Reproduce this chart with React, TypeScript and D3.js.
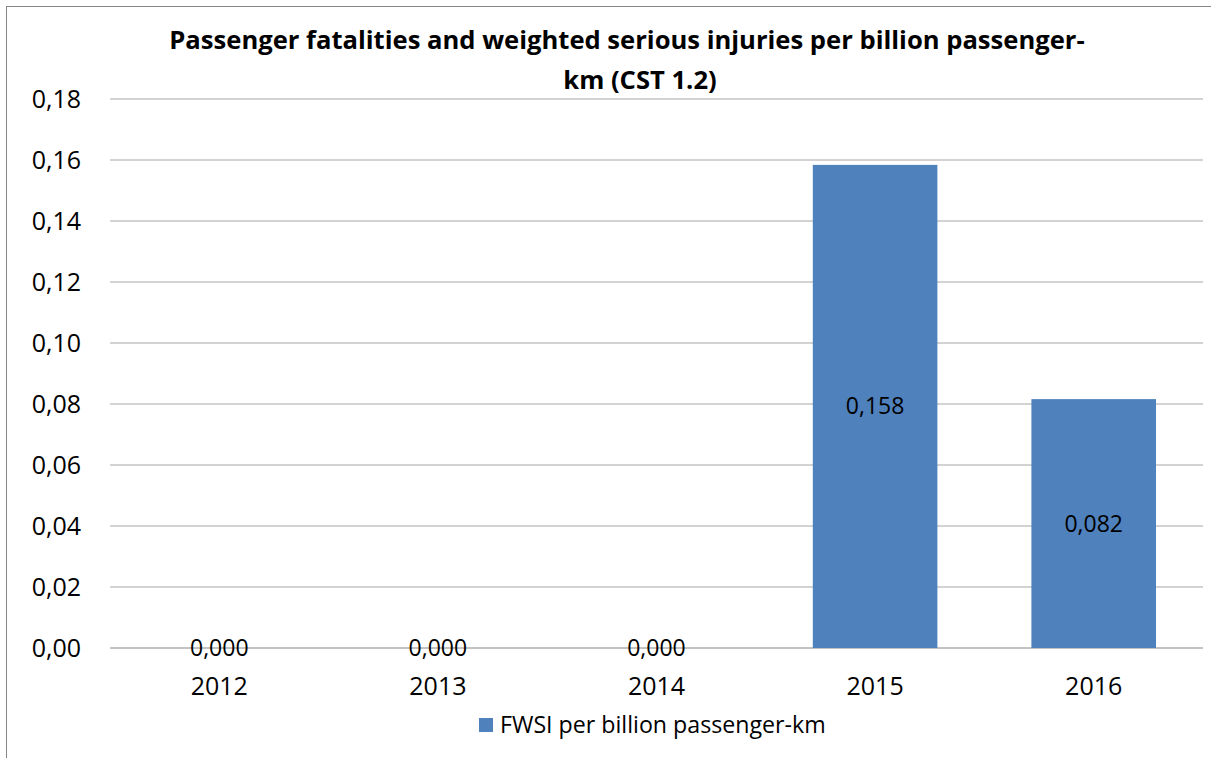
import React from "react";
import * as d3 from "d3";

const categories = ["2012", "2013", "2014", "2015", "2016"];
const values = [0, 0, 0, 0.1584, 0.0816];
const yTicks = [0, 0.02, 0.04, 0.06, 0.08, 0.1, 0.12, 0.14, 0.16, 0.18];
const titleLines = [
  "Passenger fatalities and weighted serious injuries per billion passenger-",
  "km (CST 1.2)",
];
const seriesName = "FWSI per billion passenger-km";

const W = 1211;
const H = 758;
const left = 110;
const right = 1203;
const top = 99;
const bottom = 648;
const font = "'Open Sans', sans-serif";
const barColor = "#4F81BD";
const gridColor = "#A6A6A6";

export default function App() {
  const x = d3.scaleBand<string>().domain(categories).range([left, right]).paddingInner(0.43).paddingOuter(0.215);
  const y = d3.scaleLinear().domain([0, 0.18]).range([bottom, top]);
  const fmt2 = (v: number) => v.toFixed(2).replace(".", ",");
  const fmt3 = (v: number) => v.toFixed(3).replace(".", ",");
  const titleX = [627, 640];
  return (
    <svg width={W} height={H} style={{ position: "absolute", left: 0, top: 0, background: "#fff" }}>
      <rect x={6.5} y={6.5} width={W + 20} height={H + 20} fill="#fff" stroke="#868686" strokeWidth={1} />
      {titleLines.map((t, i) => (
        <text key={i} x={titleX[i]} y={49 + i * 40} textAnchor="middle" fontFamily={font} fontWeight="bold" fontSize={25.6} fill="#000">
          {t}
        </text>
      ))}
      {yTicks.map((t) => (
        <g key={t}>
          <line x1={left} x2={right} y1={y(t)} y2={y(t)} stroke={t === 0 ? "#868686" : gridColor} strokeWidth={1} />
          <text x={81} y={y(t)} dy="0.35em" textAnchor="end" fontFamily={font} fontSize={25} fill="#000">
            {fmt2(t)}
          </text>
        </g>
      ))}
      {categories.map((c, i) => {
        const v = values[i];
        const bx = x(c)!;
        const bw = x.bandwidth();
        const cx = bx + bw / 2;
        return (
          <g key={c}>
            {v > 0 && <rect x={bx} y={y(v)} width={bw} height={bottom - y(v)} fill={barColor} />}
            <text x={cx} y={(y(v) + bottom) / 2} dy="0.35em" textAnchor="middle" fontFamily={font} fontSize={23} fill="#000">
              {fmt3(v)}
            </text>
            <text x={cx} y={686} dy="0.35em" textAnchor="middle" fontFamily={font} fontSize={25} fill="#000">
              {c}
            </text>
          </g>
        );
      })}
      <rect x={479} y={718} width={14} height={14} fill={barColor} />
      <text x={500} y={725} dy="0.35em" fontFamily={font} fontSize={23.2} fill="#000">
        {seriesName}
      </text>
    </svg>
  );
}
